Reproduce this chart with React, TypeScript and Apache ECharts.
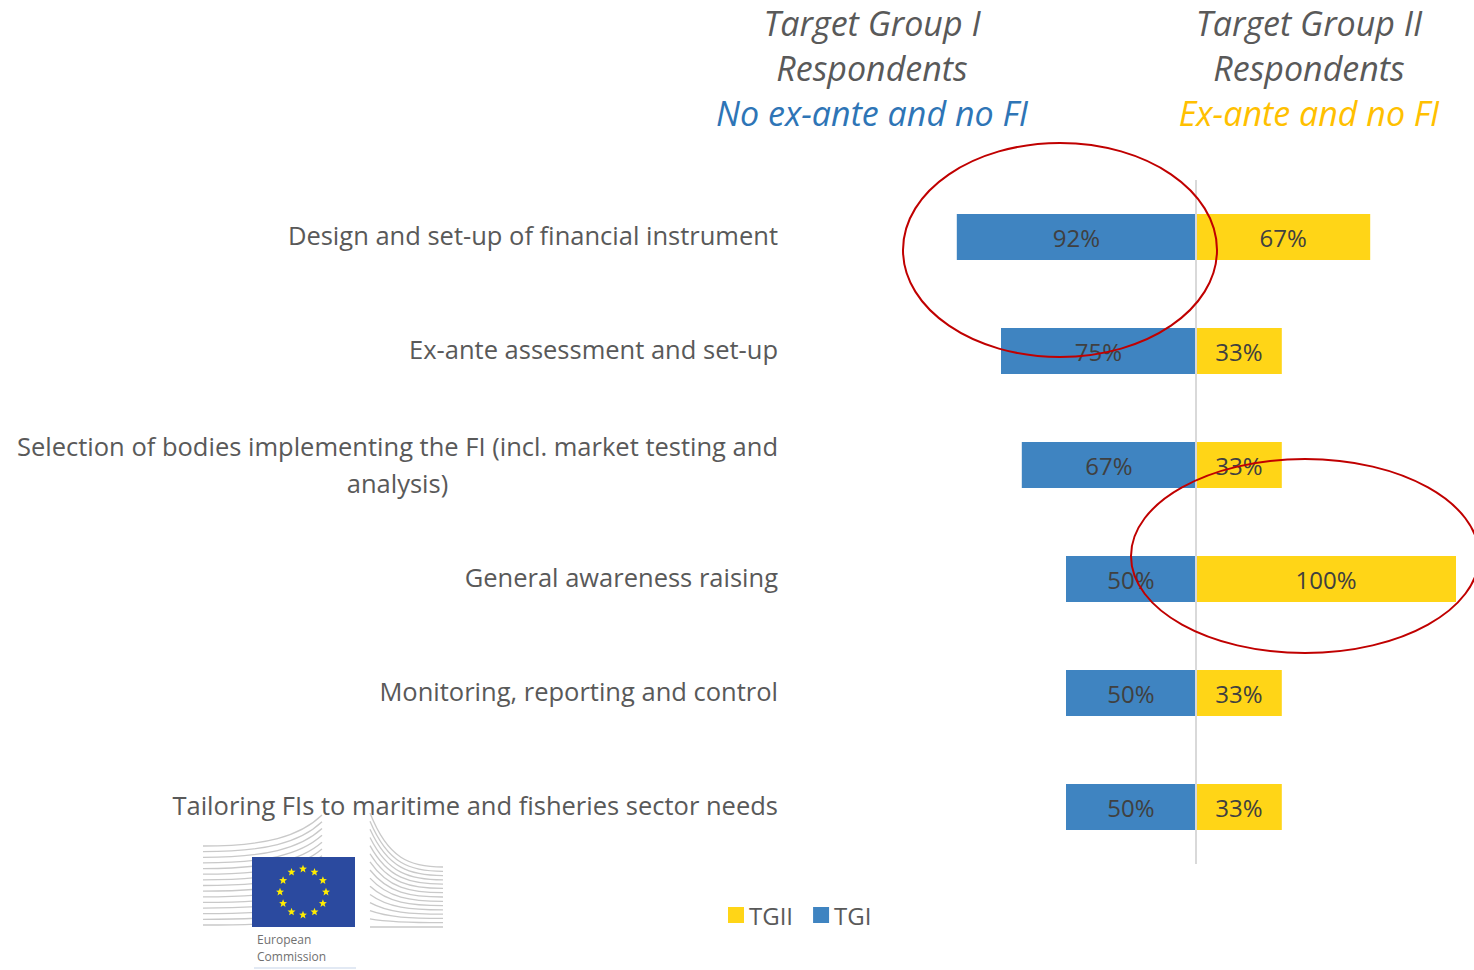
import React, { useEffect, useRef } from "react";
import * as echarts from "echarts";

const categories = [
  "Design and set-up of financial instrument",
  "Ex-ante assessment and set-up",
  "Selection of bodies implementing the FI (incl. market testing and\nanalysis)",
  "General awareness raising",
  "Monitoring, reporting and control",
  "Tailoring FIs to maritime and fisheries sector needs",
];
const tgiValues = [92, 75, 67, 50, 50, 50];
const tgiiValues = [67, 33, 33, 100, 33, 33];
const legendNames = ["TGII", "TGI"];

const BLUE = "#3F84C1";
const YELLOW = "#FFD517";
const FONT = "'Open Sans', sans-serif";

function starPoints(cx: number, cy: number, R: number, r: number): number[][] {
  const pts: number[][] = [];
  for (let k = 0; k < 10; k++) {
    const a = -Math.PI / 2 + (k * Math.PI) / 5;
    const rad = k % 2 === 0 ? R : r;
    pts.push([cx + rad * Math.cos(a), cy + rad * Math.sin(a)]);
  }
  return pts;
}

function buildLogo(): any[] {
  const els: any[] = [];
  const N = 15;
  for (let i = 0; i < N; i++) {
    const t = i / (N - 1);
    const y0 = 846 + t * 79;
    const ye = 815 + t * 95;
    els.push({
      type: "bezierCurve",
      shape: { x1: 203, y1: y0, cpx1: 265, cpy1: y0, cpx2: 300, cpy2: (y0 + ye) / 2 + 6, x2: 322, y2: ye },
      style: { stroke: "#C9C9C9", lineWidth: 1.3, fill: null },
      z: 1,
    });
  }
  for (let i = 0; i < N; i++) {
    const t = i / (N - 1);
    const sy = 813 + t * 114;
    const ey = 867 + t * 60;
    els.push({
      type: "bezierCurve",
      shape: { x1: 370, y1: sy, cpx1: 388, cpy1: sy + (ey - sy) * 0.85, cpx2: 410, cpy2: ey, x2: 443, y2: ey },
      style: { stroke: "#C9C9C9", lineWidth: 1.3, fill: null },
      z: 1,
    });
  }
  els.push({ type: "rect", shape: { x: 252, y: 857, width: 103, height: 70 }, style: { fill: "#2B4A9F" }, z: 2 });
  for (let k = 0; k < 12; k++) {
    const a = (k * Math.PI) / 6;
    const cx = 303 + 23 * Math.sin(a);
    const cy = 892 - 23 * Math.cos(a);
    els.push({ type: "polygon", shape: { points: starPoints(cx, cy, 4.2, 1.8) }, style: { fill: "#FFED00" }, z: 3 });
  }
  els.push({
    type: "text", x: 257, y: 931,
    style: { text: "European\nCommission", font: "12px 'Open Sans', sans-serif", fill: "#707070", lineHeight: 17 },
    z: 3,
  });
  els.push({ type: "line", shape: { x1: 254, y1: 968, x2: 356, y2: 968 }, style: { stroke: "#C5D3E8", lineWidth: 1 }, z: 3 });
  return els;
}

export default function App() {
  const ref = useRef<HTMLDivElement>(null);
  useEffect(() => {
    if (!ref.current) return;
    const chart = echarts.init(ref.current, undefined, { renderer: "svg" });
    const headerFont = `italic 34px ${FONT}`;
    const catSize = 25.5;
    chart.setOption({
      animation: false,
      backgroundColor: "#FFFFFF",
      legend: {
        data: legendNames,
        left: 728,
        top: 903,
        padding: 0,
        icon: "rect",
        itemWidth: 16,
        itemHeight: 16,
        itemGap: 20,
        textStyle: { fontFamily: FONT, fontSize: 24, color: "#595959" },
      },
      grid: { left: 936, right: 18, top: 180, height: 684, containLabel: false },
      xAxis: {
        type: "value",
        min: -100,
        max: 100,
        show: false,
      },
      yAxis: {
        type: "category",
        data: categories,
        inverse: true,
        axisLine: { show: false, onZero: false },
        axisTick: { show: false },
        axisLabel: {
          margin: 158,
          fontFamily: FONT,
          fontSize: catSize,
          color: "#595959",
          lineHeight: 35,
          formatter: (v: string) => {
            const lines = v.split("\n");
            if (lines.length === 1) return `{r|${v}}`;
            return `{r|${lines[0]}}\n{c|${lines[1]}}`;
          },
          rich: {
            r: { fontFamily: FONT, fontSize: catSize, color: "#595959", lineHeight: 35, align: "right", padding: [0, 0, 4, 0] },
            c: { fontFamily: FONT, fontSize: catSize, color: "#595959", lineHeight: 35, align: "center" },
          },
        },
      },
      series: [
        {
          name: "TGII",
          type: "bar",
          data: tgiiValues,
          barWidth: 46,
          barGap: "-100%",
          itemStyle: { color: YELLOW },
          label: {
            show: true,
            position: "inside",
            formatter: (p: any) => `${Math.abs(p.value)}%`,
            fontFamily: FONT,
            fontSize: 24,
            color: "#404040",
          },
          markLine: {
            silent: true,
            symbol: "none",
            label: { show: false },
            lineStyle: { color: "#D9D9D9", width: 2, type: "solid" },
            data: [{ xAxis: 0 }],
          },
        },
        {
          name: "TGI",
          type: "bar",
          data: tgiValues.map((v) => -v),
          barWidth: 46,
          barGap: "-100%",
          itemStyle: { color: BLUE },
          label: {
            show: true,
            position: "inside",
            formatter: (p: any) => `${Math.abs(p.value)}%`,
            fontFamily: FONT,
            fontSize: 24,
            color: "#404040",
          },
        },
      ],
      graphic: [
        { type: "text", x: 872, y: 23, style: { text: "Target Group I", font: headerFont, fill: "#595959", textAlign: "center", textVerticalAlign: "middle" } },
        { type: "text", x: 872, y: 68, style: { text: "Respondents", font: headerFont, fill: "#595959", textAlign: "center", textVerticalAlign: "middle" } },
        { type: "text", x: 872, y: 113, style: { text: "No ex-ante and no FI", font: headerFont, fill: "#2E75B6", textAlign: "center", textVerticalAlign: "middle" } },
        { type: "text", x: 1309, y: 23, style: { text: "Target Group II", font: headerFont, fill: "#595959", textAlign: "center", textVerticalAlign: "middle" } },
        { type: "text", x: 1309, y: 68, style: { text: "Respondents", font: headerFont, fill: "#595959", textAlign: "center", textVerticalAlign: "middle" } },
        { type: "text", x: 1309, y: 113, style: { text: "Ex-ante and no FI", font: headerFont, fill: "#FFC000", textAlign: "center", textVerticalAlign: "middle" } },
        { type: "ellipse", shape: { cx: 1060, cy: 250, rx: 157, ry: 107 }, style: { fill: null, stroke: "#C00000", lineWidth: 2 }, z: 100 },
        { type: "ellipse", shape: { cx: 1305, cy: 556, rx: 174, ry: 97 }, style: { fill: null, stroke: "#C00000", lineWidth: 2 }, z: 100 },
        ...buildLogo(),
      ],
    });
    return () => chart.dispose();
  }, []);
  return (
    <div
      ref={ref}
      style={{ position: "absolute", left: 0, top: 0, width: 1474, height: 970 }}
    />
  );
}
